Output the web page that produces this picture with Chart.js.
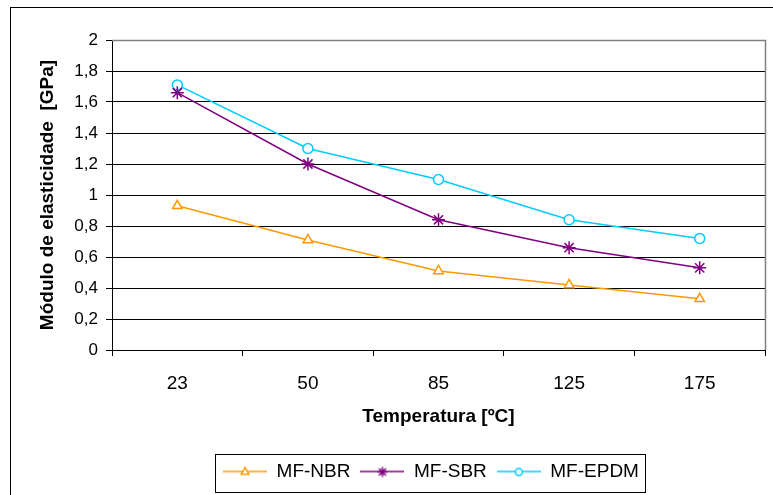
<!DOCTYPE html>
<html>
<head>
<meta charset="utf-8">
<script src="https://cdn.jsdelivr.net/npm/chart.js@4.4.1/dist/chart.umd.min.js"></script>
<style>
  html, body { margin: 0; padding: 0; background: #fff; }
</style>
</head>
<body>
<canvas id="elasticChart" width="773" height="495"></canvas>
<script>
// values
const temperatures = ["23", "50", "85", "125", "175"];
const nbrValues = [0.93, 0.71, 0.51, 0.42, 0.33];
const sbrValues = [1.66, 1.20, 0.84, 0.66, 0.53];
const epdmValues = [1.71, 1.30, 1.10, 0.84, 0.72];
const seriesNames = ["MF-NBR", "MF-SBR", "MF-EPDM"];

const FONT = "'Liberation Sans', Arial, sans-serif";

// small line + marker picture for each legend entry
function legendSample(color, style, radius) {
    let c = document.createElement("canvas");
    c.width = 44;
    c.height = 14;
    let g = c.getContext("2d");
    g.strokeStyle = color;
    g.lineWidth = 1.5;
    g.beginPath();
    g.moveTo(0, 7);
    g.lineTo(44, 7);
    g.stroke();
    g.fillStyle = "#fff";
    g.lineWidth = 1.5;
    Chart.helpers.drawPoint(g, { pointStyle: style, radius: radius, rotation: 0, borderWidth: 1.5 }, 22, 7.5);
    return c;
}

const frame = {
    id: "frame",
    beforeDraw(chart) {
        let ctx = chart.ctx;
        ctx.save();
        ctx.fillStyle = "#fff";
        ctx.fillRect(0, 0, chart.width, chart.height);
        ctx.strokeStyle = "#000";
        ctx.lineWidth = 1;
        ctx.strokeRect(10.5, 7.5, chart.width, chart.height);
        ctx.restore();
    },
    afterLayout(chart) {
        // legend sits centred under the plot, not under the whole canvas
        let lg = chart.legend;
        lg.left += 31;
        lg.right += 31;
    },
    beforeDatasetsDraw(chart) {
        let a = chart.chartArea;
        let ctx = chart.ctx;
        ctx.save();
        ctx.strokeStyle = "#808080";
        ctx.lineWidth = 1.5;
        ctx.beginPath();
        ctx.moveTo(Math.round(a.left), Math.round(a.top) + 0.5);
        ctx.lineTo(Math.round(a.right) + 0.5, Math.round(a.top) + 0.5);
        ctx.lineTo(Math.round(a.right) + 0.5, Math.round(a.bottom));
        ctx.stroke();
        ctx.restore();
    },
    afterDraw(chart) {
        let lg = chart.legend;
        let pad = lg.options.labels.padding;
        let lw = lg.lineWidths[0];
        let start = (lg.left + pad + lg.right - lw) / 2;
        let cy = lg.top + pad + 11;
        let ctx = chart.ctx;
        ctx.save();
        ctx.strokeStyle = "#000";
        ctx.lineWidth = 1;
        ctx.strokeRect(Math.round(start - 8) + 0.5, Math.round(cy - 19) + 0.5,
            Math.round(lw - pad + 14), 38);
        ctx.restore();
    }
};

let ctx = document.getElementById("elasticChart").getContext("2d");
new Chart(ctx, {
    type: "line",
    data: {
        labels: temperatures,
        datasets: [
            {
                label: seriesNames[0],
                data: nbrValues,
                borderColor: "#FF9900",
                backgroundColor: "#fff",
                borderWidth: 1.5,
                pointStyle: "triangle",
                pointRadius: 5.5,
                pointBorderWidth: 1.5,
                legendSample: legendSample("#FF9900", "triangle", 4.5)
            },
            {
                label: seriesNames[1],
                data: sbrValues,
                borderColor: "#800080",
                backgroundColor: "#800080",
                borderWidth: 1.5,
                pointStyle: "star",
                pointRadius: 6.5,
                pointBorderWidth: 1.5,
                legendSample: legendSample("#800080", "star", 5)
            },
            {
                label: seriesNames[2],
                data: epdmValues,
                borderColor: "#00CCFF",
                backgroundColor: "#fff",
                borderWidth: 1.5,
                pointStyle: "circle",
                pointRadius: 5,
                pointBorderWidth: 1.5,
                legendSample: legendSample("#00CCFF", "circle", 3.5)
            }
        ]
    },
    options: {
        responsive: false,
        animation: false,
        layout: {
            padding: { left: 32, right: 5, top: 40, bottom: 4 }
        },
        plugins: {
            legend: {
                position: "bottom",
                labels: {
                    usePointStyle: true,
                    pointStyleWidth: 44,
                    padding: 10,
                    color: "#000",
                    font: { family: FONT, size: 19 },
                    generateLabels(chart) {
                        return chart.data.datasets.map((ds, i) => ({
                            text: ds.label,
                            pointStyle: ds.legendSample,
                            fillStyle: "#fff",
                            strokeStyle: ds.borderColor,
                            lineWidth: 0,
                            fontColor: "#000",
                            datasetIndex: i,
                            hidden: false
                        }));
                    }
                }
            },
            tooltip: { enabled: false }
        },
        scales: {
            x: {
                offset: true,
                afterFit(scale) { scale.height = 102; },
                grid: {
                    offset: true,
                    drawOnChartArea: false,
                    drawTicks: true,
                    tickLength: 6,
                    color: "#000"
                },
                border: { color: "#000", width: 1 },
                ticks: {
                    color: "#000",
                    padding: 16,
                    font: { family: FONT, size: 19 }
                },
                title: {
                    display: true,
                    text: "Temperatura [ºC]",
                    color: "#000",
                    padding: { top: 4, bottom: 24 },
                    font: { family: FONT, size: 19, weight: "bold" }
                }
            },
            y: {
                min: 0,
                max: 2,
                afterFit(scale) { scale.width = 80; },
                grid: {
                    color: "#000",
                    tickLength: 6
                },
                border: { color: "#000", width: 1 },
                ticks: {
                    stepSize: 0.2,
                    color: "#000",
                    padding: 8,
                    font: { family: FONT, size: 17 },
                    callback: v => String(Math.round(v * 10) / 10).replace(".", ",")
                },
                title: {
                    display: true,
                    text: "Módulo de elasticidade  [GPa]",
                    color: "#000",
                    padding: { top: 4, bottom: 4 },
                    font: { family: FONT, size: 19, weight: "bold" }
                }
            }
        }
    },
    plugins: [frame]
});
</script>
</body>
</html>
